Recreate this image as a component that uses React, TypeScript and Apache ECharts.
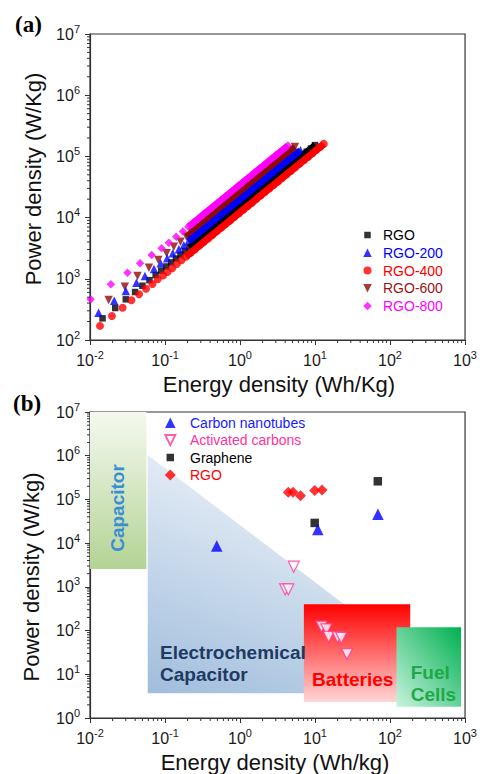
import React, { useEffect, useRef } from 'react';
import * as echarts from 'echarts';

// ---------- Panel (a): Ragone data of RGO samples (Energy Wh/Kg, Power W/Kg) ----------
const rgoE = [0.0147, 0.0217, 0.030, 0.0399, 0.050, 0.062, 0.075, 0.089, 0.104, 0.121, 0.14, 0.161, 0.185, 0.212, 0.243, 0.278, 0.318, 0.364, 0.416, 0.476, 0.544, 0.62, 0.71, 0.81, 0.93, 1.06, 1.21, 1.38, 1.58, 1.8, 2.06, 2.35, 2.68, 3.06, 3.5, 4.0, 4.55, 5.2, 5.95, 6.8, 7.75, 8.85, 10.0];
const rgoP = [226, 333, 462, 608, 771, 950, 1150, 1360, 1590, 1850, 2140, 2460, 2830, 3240, 3720, 4250, 4870, 5570, 6370, 7280, 8320, 9490, 10900, 12400, 14200, 16200, 18500, 21100, 24200, 27500, 31500, 36000, 41000, 46800, 53600, 61200, 69600, 79600, 91000, 104000, 119000, 135000, 153000];

const rgo200E = [0.013, 0.021, 0.030, 0.0416, 0.054, 0.0713, 0.0875, 0.107, 0.127, 0.153, 0.178, 0.206, 0.238, 0.274, 0.315, 0.362, 0.415, 0.475, 0.545, 0.62, 0.71, 0.81, 0.93, 1.06, 1.21, 1.38, 1.58, 1.8, 2.05, 2.35, 2.68, 3.05, 3.5, 4.0, 4.55, 5.2, 5.8, 6.4];
const rgo200P = [279, 439, 632, 865, 1110, 1450, 1790, 2160, 2610, 3040, 3550, 4100, 4730, 5440, 6250, 7180, 8220, 9400, 10800, 12300, 14000, 16000, 18400, 20900, 23900, 27200, 31200, 35500, 40400, 46300, 52800, 60100, 68900, 78800, 89600, 102000, 114000, 126000];

const rgo400E = [0.0136, 0.0196, 0.0272, 0.0357, 0.0451, 0.0558, 0.068, 0.080, 0.094, 0.108, 0.125, 0.144, 0.166, 0.19, 0.218, 0.249, 0.285, 0.326, 0.374, 0.428, 0.49, 0.56, 0.64, 0.73, 0.84, 0.96, 1.1, 1.26, 1.44, 1.65, 1.88, 2.15, 2.45, 2.8, 3.2, 3.65, 4.15, 4.75, 5.4, 6.2, 7.05, 8.05, 9.2, 10.4, 11.8, 13.1];
const rgo400P = [170, 247, 337, 446, 558, 689, 822, 982, 1130, 1290, 1490, 1740, 2010, 2300, 2640, 3020, 3460, 3960, 4540, 5200, 5960, 6810, 7780, 8880, 10200, 11700, 13400, 15300, 17500, 20100, 22900, 26200, 29900, 34100, 39000, 44500, 50600, 57900, 65800, 75500, 86000, 98000, 112000, 127000, 144000, 160000];

const rgo600E = [0.0177, 0.0291, 0.043, 0.0611, 0.0814, 0.105, 0.131, 0.161, 0.193, 0.229, 0.27, 0.315, 0.366, 0.424, 0.49, 0.565, 0.65, 0.745, 0.855, 0.98, 1.12, 1.28, 1.46, 1.67, 1.9, 2.17, 2.47, 2.82, 3.2, 3.65, 4.15, 4.75, 5.4];
const rgo600P = [451, 743, 1110, 1520, 2030, 2610, 3350, 4040, 4880, 5800, 6850, 8000, 9300, 10800, 12500, 14500, 16700, 19200, 22100, 25300, 29000, 33200, 37900, 43400, 49500, 56600, 64500, 73800, 84000, 96000, 109000, 125000, 143000];

const rgo800E = [0.0102, 0.019, 0.0316, 0.0465, 0.0664, 0.0902, 0.1127, 0.141, 0.173, 0.205, 0.24, 0.28, 0.325, 0.375, 0.43, 0.495, 0.565, 0.645, 0.735, 0.84, 0.96, 1.09, 1.24, 1.41, 1.6, 1.82, 2.07, 2.35, 2.67, 3.03, 3.44, 3.9, 4.35];
const rgo800P = [462, 813, 1260, 1790, 2450, 3150, 3890, 4880, 5950, 7080, 8300, 9700, 11300, 13000, 14900, 17200, 19600, 22400, 25500, 29100, 33300, 37800, 43000, 48900, 55500, 63100, 71800, 81500, 92600, 105000, 119000, 135000, 151000];

// ---------- Panel (b): literature comparison (Energy Wh/kg, Power W/kg) ----------
const cntE = [0.49, 10.9, 69];
const cntP = [8600, 20500, 46000];
const acE = [5.2, 4.0, 4.4, 12.2, 14.2, 15.2, 20, 22.4, 26.7];
const acP = [2900, 880, 880, 123, 107, 72, 70, 68, 29];
const grapheneE = [9.9, 68.7];
const grapheneP = [29000, 260000];
const rgoBE = [4.4, 5.1, 6.4, 9.9, 12.4];
const rgoBP = [146000, 145000, 122000, 160000, 165000];

// Device regions of the Ragone plot, in data units [Emin, Pmin, Emax, Pmax]
const capacitorRegion = [0.01, 2570, 0.0565, 1e7];
const batteriesRegion = [7.1, 2.32, 186, 400];
const fuelCellsRegion = [122, 1.8, 885, 119];
// Electrochemical capacitor triangle vertices [E, P]
const ecVertices = [[0.0588, 1.04e6], [0.0588, 3.67], [885, 3.67]];

// Axis decoration: log minor tick multipliers
const minorSteps = [2, 3, 4, 5, 6, 7, 8, 9];
const xDecades = [0.01, 0.1, 1, 10, 100];
const yDecadesA = [1e2, 1e3, 1e4, 1e5, 1e6];
const yDecadesB = [1, 10, 1e2, 1e3, 1e4, 1e5, 1e6];

// Energy above which the measured points of panel (a) merge into a solid band
const denseFrom = 0.19;

const FONT = 'Arial, "Liberation Sans", sans-serif';
const pairs = (e: number[], p: number[]) => e.map((v, i) => [v, p[i]]);
const minorOf = (decs: number[]) => decs.flatMap((d) => minorSteps.map((m) => m * d));

const labelRich = {
  a: { fontSize: 16, lineHeight: 22, fontFamily: FONT, color: '#1a1a1a' },
  s: { fontSize: 11, lineHeight: 10, verticalAlign: 'top', fontFamily: FONT, color: '#1a1a1a' },
};
const fmt = (v: number) => `{a|10}{s|${Math.round(Math.log10(v))}}`;

function logAxis(gridIndex: number, min: number, max: number, isX: boolean) {
  return {
    type: 'log',
    logBase: 10,
    gridIndex,
    min,
    max,
    interval: 1,
    axisLine: { show: true, lineStyle: { color: '#333', width: 1.2 } },
    axisTick: { show: true, inside: false, length: 5, lineStyle: { color: '#333', width: 1 } },
    splitLine: { show: false },
    minorTick: { show: false },
    axisLabel: { formatter: fmt, rich: labelRich, margin: isX ? 9 : 10 },
  };
}

function minorTickSeries(idx: number, xMin: number, yMin: number, xs: number[], ys: number[]) {
  const data = [...xs.map((v) => [v, yMin, 0]), ...ys.map((v) => [xMin, v, 1])];
  return {
    type: 'custom',
    xAxisIndex: idx,
    yAxisIndex: idx,
    silent: true,
    clip: false,
    z: 6,
    data,
    encode: { x: 0, y: 1 },
    renderItem: (_params: any, api: any) => {
      const pt = api.coord([api.value(0), api.value(1)]);
      const kind = api.value(2);
      const shape = kind === 0
        ? { x1: pt[0], y1: pt[1], x2: pt[0], y2: pt[1] + 3 }
        : { x1: pt[0] - 3, y1: pt[1], x2: pt[0], y2: pt[1] };
      return { type: 'line', shape, style: { stroke: '#333', lineWidth: 1 } };
    },
  };
}

// Legend icon paths: a shape centred in a w x h box (the two moves fix the box)
const box = (w: number, h: number) => `path://M0,0M${w},${h}`;
const iconSquare = (w: number, h: number, s: number) => {
  const x = (w - s) / 2, y = (h - s) / 2;
  return `${box(w, h)}M${x},${y}h${s}v${s}h-${s}z`;
};
const iconTri = (w: number, h: number, s: number, down: boolean) => {
  const cx = w / 2, t = (h - s) / 2, b = h - t, hw = s / 2;
  return down
    ? `${box(w, h)}M${cx - hw},${t}H${cx + hw}L${cx},${b}Z`
    : `${box(w, h)}M${cx},${t}L${cx + hw},${b}H${cx - hw}Z`;
};
const iconDiamond = (w: number, h: number, s: number) => {
  const cx = w / 2, cy = h / 2, r = s / 2;
  return `${box(w, h)}M${cx},${cy - r}L${cx + r},${cy}L${cx},${cy + r}L${cx - r},${cy}Z`;
};
const iconCircle = (w: number, h: number, s: number) => {
  const cx = w / 2, cy = h / 2, r = s / 2;
  return `${box(w, h)}M${cx - r},${cy}A${r},${r} 0 1,0 ${cx + r},${cy}A${r},${r} 0 1,0 ${cx - r},${cy}Z`;
};

const regionFills = () => [
  new echarts.graphic.LinearGradient(0, 0, 0, 1, [
    { offset: 0, color: '#f5f9f0' },
    { offset: 1, color: '#b3d394' },
  ]),
  new echarts.graphic.LinearGradient(0, 0, 0, 1, [
    { offset: 0, color: '#ff0000' },
    { offset: 1, color: '#ffd6d6' },
  ]),
  new echarts.graphic.LinearGradient(1, 0, 0, 1, [
    { offset: 0, color: '#00b050' },
    { offset: 1, color: '#c8f3de' },
  ]),
];

// Panel (a) series: scatter points plus the solid band the dense points form
function ragoneSeries(name: string, e: number[], p: number[], color: string, symbol: string, size: number, band: number, rotate = 0) {
  const pts = pairs(e, p);
  return [
    {
      type: 'line', xAxisIndex: 0, yAxisIndex: 0, silent: true, showSymbol: false, symbol: 'none',
      data: pts.filter((d) => d[0] >= denseFrom),
      lineStyle: { color, width: band, cap: 'butt', join: 'round' },
    },
    {
      name, type: 'scatter', xAxisIndex: 0, yAxisIndex: 0, symbol, symbolRotate: rotate, symbolSize: size,
      itemStyle: { color }, data: pts,
    },
  ];
}

function buildOption() {
  const fills = regionFills();
  const textEl = (text: string, x: number, y: number, font: string, fill: string, align = 'center', rotation = 0) => ({
    type: 'text', x, y, rotation, z: 100,
    style: { text, font, fill, align, verticalAlign: 'middle' },
  });
  const AW = 21, AH = 9, BW = 29.4, BH = 11;
  return {
    animation: false,
    backgroundColor: '#ffffff',
    grid: [
      { left: 90, top: 34, width: 377, height: 306, show: true, borderColor: '#333', borderWidth: 1.2 },
      { left: 90, top: 412, width: 377, height: 306, show: true, borderColor: '#333', borderWidth: 1.2 },
    ],
    xAxis: [logAxis(0, 0.01, 1000, true), logAxis(1, 0.01, 1000, true)],
    yAxis: [logAxis(0, 1e2, 1e7, false), logAxis(1, 1, 1e7, false)],
    legend: [
      {
        orient: 'vertical', left: 357, top: 228, padding: 0, itemWidth: AW, itemHeight: AH, itemGap: 3.75,
        selectedMode: false, textStyle: { fontSize: 14, fontFamily: FONT },
        data: [
          { name: 'RGO', icon: iconSquare(AW, AH, 6.5), textStyle: { color: '#000000' } },
          { name: 'RGO-200', icon: iconTri(AW, AH, 8.5, false), textStyle: { color: '#0000ff' } },
          { name: 'RGO-400', icon: iconCircle(AW, AH, 8), textStyle: { color: '#ff0000' } },
          { name: 'RGO-600', icon: iconTri(AW, AH, 8.5, true), textStyle: { color: '#9a1414' } },
          { name: 'RGO-800', icon: iconDiamond(AW, AH, 8.5), textStyle: { color: '#ff00ff' } },
        ],
      },
      {
        orient: 'vertical', left: 154.6, top: 415.7, padding: 0, itemWidth: BW, itemHeight: BH, itemGap: 3.4,
        selectedMode: false, textStyle: { fontSize: 14, fontFamily: FONT },
        formatter: (n: string) => n.replace(' (b)', ''),
        data: [
          { name: 'Carbon nanotubes', icon: iconTri(BW, BH, 10.5, false), textStyle: { color: '#1a1aff' } },
          { name: 'Activated carbons', icon: iconTri(BW, BH, 10, true), textStyle: { color: '#ff3399' } },
          { name: 'Graphene', icon: iconSquare(BW, BH, 7.5), textStyle: { color: '#000000' } },
          { name: 'RGO (b)', icon: iconDiamond(BW, BH, 11), textStyle: { color: '#ff0000' } },
        ],
      },
    ],
    series: [
      // Panel (a): drawing order so that the bands overlap as in the figure
      ...ragoneSeries('RGO', rgoE, rgoP, '#000000', 'rect', 6.5, 6.5),
      ...ragoneSeries('RGO-600', rgo600E, rgo600P, '#8e0a0a', 'triangle', 8.5, 6.5, 180),
      ...ragoneSeries('RGO-200', rgo200E, rgo200P, '#0000ff', 'triangle', 8.5, 6.5),
      ...ragoneSeries('RGO-800', rgo800E, rgo800P, '#ff00ff', 'diamond', 8.5, 6.5),
      ...ragoneSeries('RGO-400', rgo400E, rgo400P, '#ff0000', 'circle', 8, 7),
      minorTickSeries(0, 0.01, 1e2, minorOf(xDecades), minorOf(yDecadesA)),
      // Panel (b) regions
      {
        type: 'custom', xAxisIndex: 1, yAxisIndex: 1, silent: true, z: 1,
        data: [ecVertices[0]],
        encode: { x: 0, y: 1 },
        renderItem: (_p: any, api: any) => ({
          type: 'polygon',
          shape: { points: ecVertices.map((v) => api.coord(v)) },
          style: {
            fill: new echarts.graphic.LinearGradient(0, 1, 0.5, 0, [
              { offset: 0, color: '#a0bddc' },
              { offset: 1, color: '#f2f6fb' },
            ]),
          },
        }),
      },
      {
        type: 'custom', xAxisIndex: 1, yAxisIndex: 1, silent: true, z: 1,
        data: [capacitorRegion, batteriesRegion, fuelCellsRegion],
        encode: { x: [0, 2], y: [1, 3] },
        renderItem: (params: any, api: any) => {
          const a = api.coord([api.value(0), api.value(3)]);
          const b = api.coord([api.value(2), api.value(1)]);
          return {
            type: 'rect',
            shape: { x: a[0], y: a[1], width: b[0] - a[0], height: b[1] - a[1] },
            style: { fill: fills[params.dataIndex] },
          };
        },
      },
      // Panel (b) points
      { name: 'Graphene', type: 'scatter', xAxisIndex: 1, yAxisIndex: 1, symbol: 'rect', symbolSize: 8.5, z: 3, itemStyle: { color: '#000000' }, data: pairs(grapheneE, grapheneP) },
      { name: 'Activated carbons', type: 'scatter', xAxisIndex: 1, yAxisIndex: 1, symbol: 'triangle', symbolRotate: 180, symbolSize: 11, z: 3, itemStyle: { color: '#ffffff', borderColor: '#ff3399', borderWidth: 1.2 }, data: pairs(acE, acP) },
      { name: 'RGO (b)', type: 'scatter', xAxisIndex: 1, yAxisIndex: 1, symbol: 'diamond', symbolSize: 11, z: 3, itemStyle: { color: '#ff0000' }, data: pairs(rgoBE, rgoBP) },
      { name: 'Carbon nanotubes', type: 'scatter', xAxisIndex: 1, yAxisIndex: 1, symbol: 'triangle', symbolSize: 11.5, z: 3, itemStyle: { color: '#0000ff' }, data: pairs(cntE, cntP) },
      minorTickSeries(1, 0.01, 1, minorOf(xDecades), minorOf(yDecadesB)),
    ],
    graphic: [
      textEl('(a)', 15, 24, 'bold 23px "Liberation Serif", "Times New Roman", serif', '#000', 'left'),
      textEl('(b)', 13, 403, 'bold 23px "Liberation Serif", "Times New Roman", serif', '#000', 'left'),
      textEl('Power density (W/Kg)', 33, 179, `22px ${FONT}`, '#111', 'center', Math.PI / 2),
      textEl('Energy density (Wh/Kg)', 279, 384, `22px ${FONT}`, '#111'),
      textEl('Power density (W/kg)', 31, 577, `22px ${FONT}`, '#111', 'center', Math.PI / 2),
      textEl('Energy density (Wh/kg)', 275, 762, `22px ${FONT}`, '#111'),
      textEl('Capacitor', 117.5, 508, `bold 19px ${FONT}`, '#3a8fd4', 'center', Math.PI / 2),
      textEl('Electrochemical', 160, 652, `bold 19px ${FONT}`, '#1c3a64', 'left'),
      textEl('Capacitor', 160, 674, `bold 19px ${FONT}`, '#1c3a64', 'left'),
      textEl('Batteries', 352.7, 679, `bold 19px ${FONT}`, '#ff0000'),
      textEl('Fuel', 410.7, 672, `bold 19px ${FONT}`, '#20a848', 'left'),
      textEl('Cells', 410.7, 694, `bold 19px ${FONT}`, '#20a848', 'left'),
    ],
  };
}

export default function App() {
  const ref = useRef<HTMLDivElement>(null);
  useEffect(() => {
    document.body.style.margin = '0';
    const chart = echarts.init(ref.current!, null, { renderer: 'svg' });
    chart.setOption(buildOption() as any);
    return () => chart.dispose();
  }, []);
  return <div ref={ref} style={{ width: 480, height: 774 }} />;
}
